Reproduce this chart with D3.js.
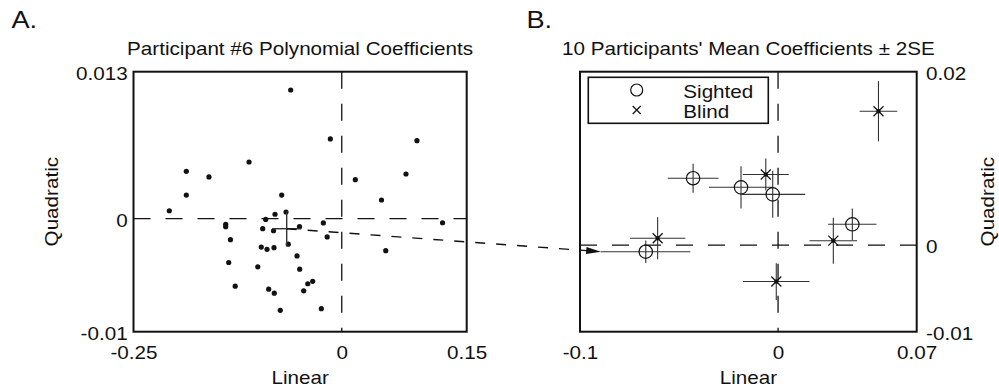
<!DOCTYPE html>
<html>
<head>
<meta charset="utf-8">
<script src="https://cdn.jsdelivr.net/npm/d3@7"></script>
<style>
  body { margin: 0; background: #fff; }
  svg { display: block; font-family: "Liberation Sans", Arial, Helvetica, sans-serif; }
</style>
</head>
<body>
<svg id="chart" width="999" height="389"></svg>
<script>
// Panel A: one participant's per-trial polynomial coefficients
const dotLinear = [-0.0613, -0.1113, -0.1866, -0.1594, -0.1866, -0.0721, -0.0137, 0.0903, 0.0771, 0.0163,
  0.0477, -0.2070, 0.1210, -0.1393, -0.1393, -0.1336, -0.0913, -0.0801, -0.0669, -0.0949,
  -0.0819, -0.0507, -0.0221, -0.0175, -0.0642, -0.0966, -0.0897, -0.0813, -0.0537, 0.0528,
  -0.1357, -0.1279, -0.1008, -0.0505, -0.0877, -0.0810, -0.0738, -0.0457, -0.0408, -0.0349, -0.0245];
const dotQuadratic = [0.01138, 0.00501, 0.00419, 0.00369, 0.00209, 0.00209, 0.00705, 0.00690, 0.00395, 0.00345,
  0.00165, 0.00070, -0.00036, -0.00050, -0.00071, -0.00186, -0.00007, 0.00039, 0.00059, -0.00089,
  -0.00107, -0.00071, -0.00038, -0.00162, -0.00226, -0.00251, -0.00271, -0.00257, -0.00330, -0.00283,
  -0.00388, -0.00597, -0.00426, -0.00447, -0.00624, -0.00659, -0.00811, -0.00638, -0.00576, -0.00554, -0.00796];
const p6Mean = [-0.0661, -0.00089];
const p6Err = [0.0174, 0.00155];

// Panel B: participant means +/- 2SE
const groups = ["Sighted", "Sighted", "Sighted", "Sighted", "Sighted", "Blind", "Blind", "Blind", "Blind", "Blind"];
const meanLinear = [-0.0429, -0.0187, -0.0027, 0.0375, -0.0668, 0.0507, -0.0608, -0.0062, 0.0279, -0.0009];
const meanQuadratic = [0.00771, 0.00666, 0.00585, 0.00239, -0.00077, 0.01544, 0.00078, 0.00814, 0.0005, -0.00421];
const errLinear = [0.0128, 0.0162, 0.0164, 0.0122, 0.0225, 0.0095, 0.0140, 0.0116, 0.0120, 0.0168];
const errQuadratic = [0.00167, 0.00244, 0.00271, 0.00183, 0.0013, 0.00347, 0.00242, 0.00185, 0.00265, 0.00212];
const arrowTarget = 4; // participant #6 in panel B

const ticksAx = [-0.25, 0, 0.15];
const labelsAx = ["-0.25", "0", "0.15"];
const ticksAy = [-0.01, 0, 0.013];
const labelsAy = ["-0.01", "0", "0.013"];
const ticksBx = [-0.1, 0, 0.07];
const labelsBx = ["-0.1", "0", "0.07"];
const ticksBy = [-0.01, 0, 0.02];
const labelsBy = ["-0.01", "0", "0.02"];

const svg = d3.select("#chart");
const fs = 17.5;
const stretch = 1.18;

const xA = d3.scaleLinear().domain([-0.25, 0.15]).range([133.5, 466.7]);
const yA = d3.scaleLinear().domain([-0.01, 0.013]).range([331.7, 71.7]);
const xB = d3.scaleLinear().domain([-0.1, 0.07]).range([580, 916.7]);
const yB = d3.scaleLinear().domain([-0.01, 0.02]).range([331.7, 71.7]);

function label(x, y, text, opts = {}) {
  const rot = opts.rotate ? ` rotate(${opts.rotate})` : "";
  return svg.append("text")
    .attr("transform", `translate(${x},${y})${rot} scale(${stretch},1)`)
    .attr("text-anchor", opts.anchor || "middle")
    .attr("font-size", opts.size || fs)
    .attr("fill", "#111")
    .text(text);
}

function styleAxis(a, dy) {
  a.attr("font-family", null).attr("font-size", null);
  a.select(".domain").remove();
  a.selectAll("text")
    .attr("font-size", fs)
    .attr("fill", "#111")
    .attr("transform", `scale(${stretch},1)`);
  if (dy) a.selectAll("text").attr("dy", dy);
}

function drawPanel(x, y, xTicks, xLabels, yTicks, yLabels, yRight) {
  const g = svg.append("g");
  const [x0, x1] = x.range();
  const [y0, y1] = y.range();

  // dashed zero lines
  g.append("line")
    .attr("x1", x0).attr("x2", x1).attr("y1", y(0)).attr("y2", y(0))
    .attr("stroke", "#111").attr("stroke-width", 1.3).attr("stroke-dasharray", "17,15");
  g.append("line")
    .attr("x1", x(0)).attr("x2", x(0)).attr("y1", y1).attr("y2", y0)
    .attr("stroke", "#111").attr("stroke-width", 1.3).attr("stroke-dasharray", "17,15");

  g.append("g")
    .attr("transform", `translate(0,${y0})`)
    .call(d3.axisBottom(x).tickValues(xTicks).tickFormat((d, i) => xLabels[i]).tickSize(0).tickPadding(15))
    .call(a => styleAxis(a));

  const yAxis = yRight
    ? d3.axisRight(y).tickPadding(8)
    : d3.axisLeft(y).tickPadding(5);
  g.append("g")
    .attr("transform", `translate(${yRight ? x1 : x0},0)`)
    .call(yAxis.tickValues(yTicks).tickFormat((d, i) => yLabels[i]).tickSize(0))
    .call(a => styleAxis(a, "0.45em"));

  return g;
}

function drawFrame(x, y) {
  const [x0, x1] = x.range();
  const [y0, y1] = y.range();
  svg.append("rect")
    .attr("x", x0).attr("y", y1)
    .attr("width", x1 - x0).attr("height", y0 - y1)
    .attr("fill", "none").attr("stroke", "#111").attr("stroke-width", 2);
}

// ---- panel A
const gA = drawPanel(xA, yA, ticksAx, labelsAx, ticksAy, labelsAy, false);

gA.selectAll("circle.dot")
  .data(dotLinear.map((d, i) => [d, dotQuadratic[i]]))
  .join("circle")
  .attr("class", "dot")
  .attr("cx", d => xA(d[0]))
  .attr("cy", d => yA(d[1]))
  .attr("r", 2.6)
  .attr("fill", "#111");

gA.append("line")
  .attr("x1", xA(p6Mean[0] - p6Err[0])).attr("x2", xA(p6Mean[0] + p6Err[0]))
  .attr("y1", yA(p6Mean[1])).attr("y2", yA(p6Mean[1]))
  .attr("stroke", "#333").attr("stroke-width", 1.4);
gA.append("line")
  .attr("x1", xA(p6Mean[0])).attr("x2", xA(p6Mean[0]))
  .attr("y1", yA(p6Mean[1] - p6Err[1])).attr("y2", yA(p6Mean[1] + p6Err[1]))
  .attr("stroke", "#333").attr("stroke-width", 1.4);

drawFrame(xA, yA);

// ---- panel B
const gB = drawPanel(xB, yB, ticksBx, labelsBx, ticksBy, labelsBy, true);

const rowsB = groups.map((g, i) => ({
  group: g,
  x: meanLinear[i],
  y: meanQuadratic[i],
  ex: errLinear[i],
  ey: errQuadratic[i]
}));

const pts = gB.selectAll("g.pt").data(rowsB).join("g").attr("class", "pt");

pts.append("line")
  .attr("x1", d => xB(d.x - d.ex)).attr("x2", d => xB(d.x + d.ex))
  .attr("y1", d => yB(d.y)).attr("y2", d => yB(d.y))
  .attr("stroke", "#333").attr("stroke-width", 1.1);
pts.append("line")
  .attr("x1", d => xB(d.x)).attr("x2", d => xB(d.x))
  .attr("y1", d => yB(d.y - d.ey)).attr("y2", d => yB(d.y + d.ey))
  .attr("stroke", "#333").attr("stroke-width", 1.1);

pts.filter(d => d.group === "Sighted")
  .append("circle")
  .attr("cx", d => xB(d.x)).attr("cy", d => yB(d.y))
  .attr("r", 6.7)
  .attr("fill", "none").attr("stroke", "#111").attr("stroke-width", 1.2);

const blind = pts.filter(d => d.group === "Blind");
blind.append("path")
  .attr("d", d => {
    const cx = xB(d.x), cy = yB(d.y), s = 5;
    return `M${cx - s},${cy - s}L${cx + s},${cy + s}M${cx - s},${cy + s}L${cx + s},${cy - s}`;
  })
  .attr("stroke", "#111").attr("stroke-width", 1.2);
blind.append("rect")
  .attr("x", d => xB(d.x) - 2).attr("y", d => yB(d.y) - 2)
  .attr("width", 4).attr("height", 4)
  .attr("fill", "#111");

// legend
const lx = xB.range()[0] + 8.3;
const ly = yB.range()[1] + 5.6;
const legend = svg.append("g").attr("transform", `translate(${lx},${ly})`);
legend.append("rect")
  .attr("width", 180).attr("height", 46)
  .attr("fill", "#fff").attr("stroke", "#111").attr("stroke-width", 1.6);
legend.append("circle")
  .attr("cx", 48.4).attr("cy", 12.7).attr("r", 6)
  .attr("fill", "none").attr("stroke", "#111").attr("stroke-width", 1.2);
legend.append("path")
  .attr("d", "M44.4,28.7L52.4,36.7M44.4,36.7L52.4,28.7")
  .attr("stroke", "#111").attr("stroke-width", 1.2);
legend.selectAll("text")
  .data(["Sighted", "Blind"])
  .join("text")
  .attr("transform", (d, i) => `translate(95,${21 + i * 20}) scale(${stretch},1)`)
  .attr("font-size", fs)
  .attr("fill", "#111")
  .text(d => d);

drawFrame(xB, yB);

// arrow from participant #6's mean in A to its point in B
const defs = svg.append("defs");
defs.append("marker")
  .attr("id", "arrowhead")
  .attr("viewBox", "0 0 15 7")
  .attr("refX", 15).attr("refY", 3.5)
  .attr("markerWidth", 15).attr("markerHeight", 7)
  .attr("markerUnits", "userSpaceOnUse")
  .attr("orient", "auto")
  .append("path")
  .attr("d", "M0,0L15,3.5L0,7Z")
  .attr("fill", "#111");

const target = rowsB[arrowTarget];
svg.append("line")
  .attr("x1", xA(p6Mean[0])).attr("y1", yA(p6Mean[1]))
  .attr("x2", xB(target.x - target.ex)).attr("y2", yB(target.y))
  .attr("stroke", "#111").attr("stroke-width", 1.4)
  .attr("stroke-dasharray", "10,11")
  .attr("marker-end", "url(#arrowhead)");

// titles and labels
label(d3.mean(xA.range()), 55, "Participant #6 Polynomial Coefficients");
label(d3.mean(xB.range()), 55, "10 Participants' Mean Coefficients \u00b1 2SE");
label(d3.mean(xA.range()), 384, "Linear");
label(d3.mean(xB.range()), 384, "Linear");
label(57.5, d3.mean(yA.range()), "Quadratic", { rotate: -90 });
label(994, d3.mean(yB.range()), "Quadratic", { rotate: -90 });
label(11.5, 28, "A.", { anchor: "start", size: 23 });
label(526.5, 28, "B.", { anchor: "start", size: 23 });
</script>
</body>
</html>
